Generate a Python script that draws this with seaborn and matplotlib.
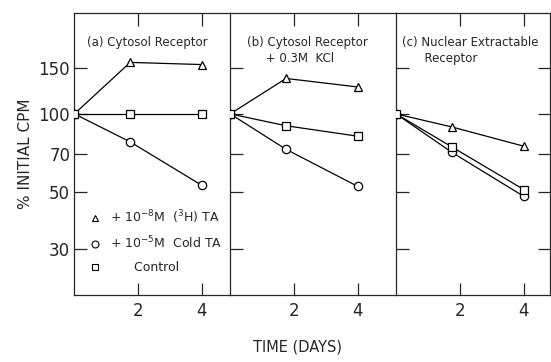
import matplotlib
matplotlib.use("Agg")
import matplotlib.pyplot as plt
from matplotlib.lines import Line2D
from matplotlib.ticker import FixedLocator, NullLocator
import pandas as pd
import seaborn as sns

# time points (days)
days = [0, 1.75, 4]

# % initial CPM for each panel
a_tritiated = [100, 158, 155]
a_cold = [100, 78, 53]
a_control = [100, 100, 100]

b_tritiated = [100, 137, 127]
b_cold = [100, 73, 52.5]
b_control = [100, 90, 82]

c_tritiated = [100, 89, 75]
c_cold = [100, 71, 48]
c_control = [100, 74.5, 51]

panel_titles = ["(a) Cytosol Receptor",
                "(b) Cytosol Receptor\n     + 0.3M  KCl",
                "(c) Nuclear Extractable\n      Receptor"]
series_names = ["tritiated", "cold", "control"]
legend_labels = [r"+ 10$^{-8}$M  ($^3$H) TA",
                 r"+ 10$^{-5}$M  Cold TA",
                 "      Control"]
y_ticks = [30, 50, 70, 100, 150]
x_ticks = [2, 4]

panels = [
    (a_tritiated, a_cold, a_control),
    (b_tritiated, b_cold, b_control),
    (c_tritiated, c_cold, c_control),
]

rows = []
for p, vals in enumerate(panels):
    for name, v in zip(series_names, vals):
        for d, y in zip(days, v):
            rows.append({"panel": p, "series": name, "day": d, "cpm": y})
df = pd.DataFrame(rows)

sns.set_style("ticks")
plt.rcParams["font.family"] = ["DejaVu Sans"]

markers = {"tritiated": "^", "cold": "o", "control": "s"}
palette = {k: "black" for k in series_names}

fig, axes = plt.subplots(1, 3, figsize=(5.51, 3.62), dpi=100,
                         gridspec_kw={"width_ratios": [156, 166, 154]})
fig.subplots_adjust(left=0.135, right=0.998, top=0.964, bottom=0.185, wspace=0)

xlims = [(0, 4.89), (0, 5.2), (0, 4.81)]
title_x = [0.08, 0.1, 0.04]

for i, ax in enumerate(axes):
    sub = df[df["panel"] == i]
    sns.lineplot(data=sub, x="day", y="cpm", hue="series", style="series",
                 markers=markers, dashes=False, palette=palette,
                 markerfacecolor="white", markeredgecolor="black",
                 markeredgewidth=0.9, markersize=6, linewidth=0.9,
                 legend=False, ax=ax, zorder=3)
    ax.set_yscale("log")
    ax.set_ylim(20, 245)
    ax.set_xlim(*xlims[i])
    ax.yaxis.set_major_locator(FixedLocator(y_ticks))
    ax.yaxis.set_minor_locator(NullLocator())
    ax.xaxis.set_major_locator(FixedLocator(x_ticks))
    ax.set_xticklabels([str(t) for t in x_ticks])
    ax.tick_params(direction="in", length=9, width=0.9, labelsize=12,
                   top=True, bottom=True)
    ax.tick_params(axis="x", pad=5)
    ax.tick_params(axis="y", left=True, right=(i == 2), pad=3)
    if i == 0:
        ax.set_yticklabels([str(t) for t in y_ticks])
    else:
        ax.set_yticklabels([])
    for s in ax.spines.values():
        s.set_linewidth(0.9)
    if i < 2:
        ax.spines["right"].set_visible(False)
    ax.set_xlabel("")
    ax.set_ylabel("")
    ax.text(title_x[i], 0.92, panel_titles[i],
            transform=ax.transAxes, fontsize=8.5, va="top", ha="left",
            linespacing=1.3)

axes[0].set_ylabel("% INITIAL CPM", fontsize=11, labelpad=4)
fig.text(0.54, 0.02, "TIME (DAYS)", fontsize=10.5, ha="center", va="bottom")

handles = [Line2D([], [], linestyle="none", marker=markers[s], markersize=5,
                  markerfacecolor="white", markeredgecolor="black",
                  markeredgewidth=0.8) for s in series_names]
axes[0].legend(handles, legend_labels, loc="upper left",
               bbox_to_anchor=(0.06, 0.33), frameon=False, fontsize=9,
               handlelength=0.8, handletextpad=0.8, labelspacing=0.75,
               borderpad=0)

fig.savefig("out.png", dpi=100)
